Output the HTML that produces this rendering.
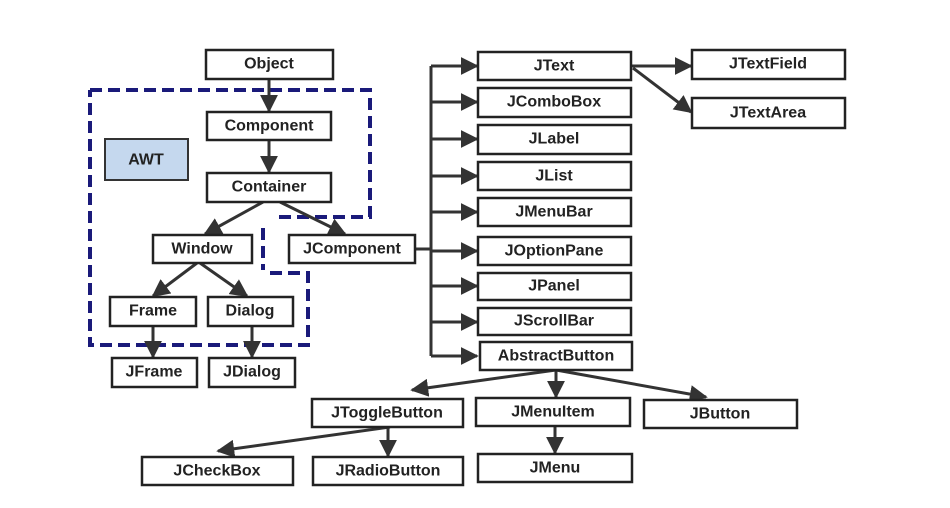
<!DOCTYPE html>
<html><head><meta charset="utf-8"><style>
html,body{margin:0;padding:0;background:#fff;}
svg text{font-family:"Liberation Sans",Arial,sans-serif;font-weight:bold;font-size:16px;fill:#222;text-anchor:middle;dominant-baseline:central;}
</style></head><body>
<svg width="950" height="503" viewBox="0 0 950 503" xmlns="http://www.w3.org/2000/svg">
<defs>
<marker id="a" viewBox="0 0 10 10" refX="9" refY="5" markerWidth="6" markerHeight="6" orient="auto" markerUnits="strokeWidth">
<path d="M0,0 L10,5 L0,10 z" fill="#333"/></marker>
</defs>
<path d="M90,90 L370,90 L370,217 L277,217 M263,228 L263,270 M270,273 L308,273 L308,345 L90,345 L90,90" fill="none" stroke="#1a1a7a" stroke-width="4" stroke-dasharray="12,6"/>
<rect x="105" y="139" width="83" height="41" fill="#c5d8ee" stroke="#333" stroke-width="2"/>
<text x="146" y="160">AWT</text>
<g stroke="#333" stroke-width="3" fill="none">
<line x1="269" y1="79" x2="269" y2="111" marker-end="url(#a)"/>
<line x1="269" y1="140" x2="269" y2="172" marker-end="url(#a)"/>
<line x1="263" y1="202" x2="205" y2="234" marker-end="url(#a)"/>
<line x1="280" y1="202" x2="345" y2="234" marker-end="url(#a)"/>
<line x1="197" y1="263" x2="153" y2="296" marker-end="url(#a)"/>
<line x1="200" y1="263" x2="247" y2="296" marker-end="url(#a)"/>
<line x1="153" y1="326" x2="153" y2="357" marker-end="url(#a)"/>
<line x1="252" y1="326" x2="252" y2="357" marker-end="url(#a)"/>
<line x1="415" y1="249" x2="431" y2="249"/>
<line x1="431" y1="66" x2="431" y2="356"/>
<line x1="431" y1="66" x2="477" y2="66" marker-end="url(#a)"/>
<line x1="431" y1="102" x2="477" y2="102" marker-end="url(#a)"/>
<line x1="431" y1="139" x2="477" y2="139" marker-end="url(#a)"/>
<line x1="431" y1="176" x2="477" y2="176" marker-end="url(#a)"/>
<line x1="431" y1="212" x2="477" y2="212" marker-end="url(#a)"/>
<line x1="431" y1="251" x2="477" y2="251" marker-end="url(#a)"/>
<line x1="431" y1="286" x2="477" y2="286" marker-end="url(#a)"/>
<line x1="431" y1="322" x2="477" y2="322" marker-end="url(#a)"/>
<line x1="431" y1="356" x2="477" y2="356" marker-end="url(#a)"/>
<line x1="631" y1="66" x2="691" y2="66" marker-end="url(#a)"/>
<line x1="633" y1="68" x2="691" y2="112" marker-end="url(#a)"/>
<line x1="556" y1="370" x2="412" y2="390" marker-end="url(#a)"/>
<line x1="556" y1="370" x2="556" y2="397" marker-end="url(#a)"/>
<line x1="556" y1="370" x2="706" y2="397" marker-end="url(#a)"/>
<line x1="390" y1="427" x2="218" y2="451" marker-end="url(#a)"/>
<line x1="388" y1="427" x2="388" y2="456" marker-end="url(#a)"/>
<line x1="555" y1="426" x2="555" y2="453" marker-end="url(#a)"/>
</g>
<g fill="#fff" stroke="#222" stroke-width="2.5">
<rect x="206" y="50" width="127" height="29"/>
<rect x="207" y="112" width="124" height="28"/>
<rect x="207" y="173" width="124" height="29"/>
<rect x="153" y="235" width="99" height="28"/>
<rect x="289" y="235" width="126" height="28"/>
<rect x="110" y="297" width="86" height="29"/>
<rect x="208" y="297" width="85" height="29"/>
<rect x="112" y="358" width="85" height="29"/>
<rect x="209" y="358" width="86" height="29"/>
<rect x="478" y="52" width="153" height="28"/>
<rect x="478" y="88" width="153" height="29"/>
<rect x="478" y="125" width="153" height="29"/>
<rect x="478" y="162" width="153" height="28"/>
<rect x="478" y="198" width="153" height="28"/>
<rect x="478" y="237" width="153" height="28"/>
<rect x="478" y="273" width="153" height="27"/>
<rect x="478" y="308" width="153" height="27"/>
<rect x="480" y="342" width="152" height="28"/>
<rect x="692" y="50" width="153" height="29"/>
<rect x="692" y="98" width="153" height="30"/>
<rect x="312" y="399" width="151" height="28"/>
<rect x="476" y="398" width="154" height="28"/>
<rect x="644" y="400" width="153" height="28"/>
<rect x="142" y="457" width="151" height="28"/>
<rect x="313" y="457" width="150" height="28"/>
<rect x="478" y="454" width="154" height="28"/>
</g>
<text x="269" y="64">Object</text>
<text x="269" y="126">Component</text>
<text x="269" y="187">Container</text>
<text x="202" y="249">Window</text>
<text x="352" y="249">JComponent</text>
<text x="153" y="311">Frame</text>
<text x="250" y="311">Dialog</text>
<text x="154" y="372">JFrame</text>
<text x="252" y="372">JDialog</text>
<text x="554" y="66">JText</text>
<text x="554" y="102">JComboBox</text>
<text x="554" y="139">JLabel</text>
<text x="554" y="176">JList</text>
<text x="554" y="212">JMenuBar</text>
<text x="554" y="251">JOptionPane</text>
<text x="554" y="286">JPanel</text>
<text x="554" y="321">JScrollBar</text>
<text x="556" y="356">AbstractButton</text>
<text x="768" y="64">JTextField</text>
<text x="768" y="113">JTextArea</text>
<text x="387" y="413">JToggleButton</text>
<text x="553" y="412">JMenuItem</text>
<text x="720" y="414">JButton</text>
<text x="217" y="471">JCheckBox</text>
<text x="388" y="471">JRadioButton</text>
<text x="555" y="468">JMenu</text>
</svg>
</body></html>
